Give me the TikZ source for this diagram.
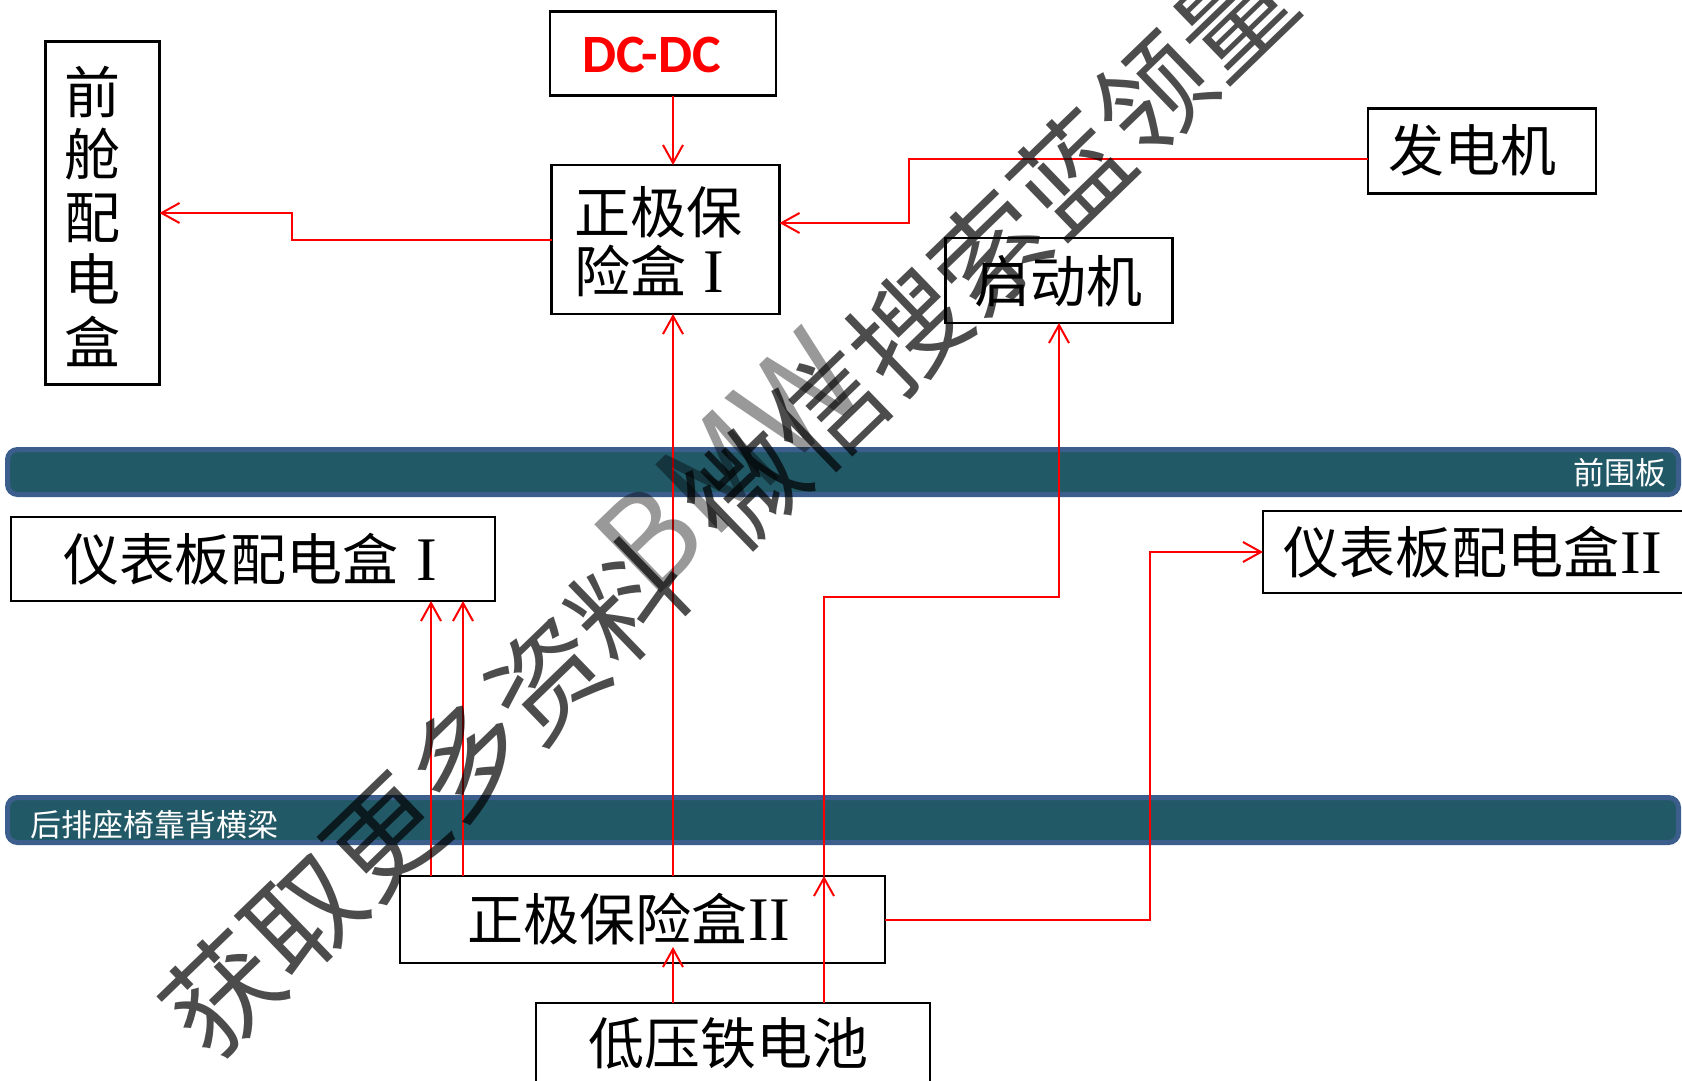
\documentclass[tikz,border=0pt]{standalone}
\usepackage{fontspec}
\usetikzlibrary{arrows.meta}
\newfontfamily\song{Noto Sans CJK SC}
\newfontfamily\cjk{Noto Sans CJK SC}
\newfontfamily\carlito{Carlito}
\newfontfamily\romserif{Liberation Serif}
\newcommand{\numI}{\makebox[1em]{\romserif\fontsize{62pt}{62pt}\selectfont I}}
\newcommand{\numII}{\makebox[0.8em]{\romserif\fontsize{62pt}{62pt}\selectfont II}}
\definecolor{barfill}{RGB}{34,89,103}
\definecolor{barline}{RGB}{60,94,140}
\tikzset{
  box/.style={draw=black, line width=2.5pt, inner sep=0pt, outer sep=0pt, rectangle},
  lbl/.style={inner sep=0pt, outer sep=0pt, font=\song\fontsize{56pt}{62pt}\selectfont},
  wire/.style={draw=red, line width=2pt, -{Straight Barb[length=18pt,width=20pt]}},
  bar/.style={fill=barfill, draw=barline, line width=5pt, rounded corners=10pt, inner sep=0pt, outer sep=0pt},
  barlabel/.style={text=white, inner sep=0pt, font=\song\fontsize{31pt}{31pt}\selectfont},
  wm/.style={text=black, text opacity=0.7, inner sep=0pt, font=\cjk\fontsize{113pt}{113pt}\selectfont},
  wmlight/.style={text=black, text opacity=0.4, inner sep=0pt, font=\cjk\fontsize{130pt}{130pt}\selectfont}
}
\begin{document}
\begin{tikzpicture}[x=1pt,y=-1pt]
\useasboundingbox (0,0) rectangle (1682,1081);
% walls
\node[bar, minimum width=1671pt, minimum height=45pt] (wall1) at (843,472) {};
\node[bar, minimum width=1671pt, minimum height=45pt] (wall2) at (843,820) {};
\node[barlabel, anchor=east] (twall1) at (1667,472.5) {前围板};
\node[barlabel, anchor=west] (twall2) at (30,825) {后排座椅靠背横梁};
% boxes
\node[box, minimum width=114pt, minimum height=343pt] (fwd) at (102.5,213) {};
\node[box, minimum width=226pt, minimum height=84pt] (dcdc) at (663,53.5) {};
\node[box, minimum width=228pt, minimum height=149pt] (pf1) at (665.5,239.5) {};
\node[box, minimum width=228pt, minimum height=85pt] (gen) at (1482,151) {};
\node[box, minimum width=227pt, minimum height=85pt] (starter) at (1059,280.5) {};
\node[box, minimum width=484pt, minimum height=84pt] (ip1) at (253,559) {};
\node[box, minimum width=440pt, minimum height=82pt] (ip2) at (1483,552) {};
\node[box, minimum width=485pt, minimum height=87pt] (pf2) at (642.5,919.5) {};
\node[box, minimum width=394pt, minimum height=100pt] (bat) at (733,1053) {};
% texts
\node[lbl, align=center, font=\song\fontsize{56pt}{62.5pt}\selectfont] (tfwd) at (92,216) {前\\舱\\配\\电\\盒};
\node[inner sep=0pt, text=red, font=\carlito\bfseries\fontsize{54pt}{54pt}\selectfont] (tdc) at (651.5,54.5) {DC-DC};
\node[lbl, align=left, anchor=west, font=\song\fontsize{56pt}{59pt}\selectfont] (tpf1) at (574,242) {正极保\\险盒\numI};
\node[lbl] (tgen) at (1472,150.5) {发电机};
\node[lbl] (tst) at (1058.5,281) {启动机};
\node[lbl, anchor=west] (tip1) at (63,559) {仪表板配电盒\numI};
\node[lbl, anchor=west] (tip2) at (1283,552) {仪表板配电盒\numII};
\node[lbl, anchor=west] (tpf2) at (467,919) {正极保险盒\numII};
\node[lbl] (tbat) at (728.5,1043) {低压铁电池};
% connector helper points
\coordinate (xa) at (673,0);
\coordinate (xb) at (431,0);
\coordinate (xc) at (463,0);
\coordinate (jogA) at (292,213);
\coordinate (jogB) at (909,159);
\coordinate (jogB2) at (909,223);
\coordinate (jogC) at (824,597);
\coordinate (jogD) at (1150,552);
\coordinate (batTip) at (673,947);
% connectors
\draw[wire] (xa |- dcdc.south) -- (xa |- pf1.north);
\draw[wire] (pf1.west) -- (jogA |- pf1.west) -- (jogA) -- (fwd.east |- jogA);
\draw[wire] (gen.west |- jogB) -- (jogB) -- (jogB2) -- (pf1.east |- jogB2);
\draw[wire] (xa |- pf2.north) -- (xa |- pf1.south);
\draw[wire] (xb |- pf2.north) -- (xb |- ip1.south);
\draw[wire] (xc |- pf2.north) -- (xc |- ip1.south);
\draw[wire] (xa |- bat.north) -- (batTip);
\draw[wire] (jogC |- bat.north) -- (jogC |- pf2.north);
\draw[wire] (jogC |- pf2.north) -- (jogC) -- (starter.south |- jogC) -- (starter.south);
\draw[wire] (pf2.east) -- (jogD |- pf2.east) -- (jogD) -- (ip2.west);
% watermark
\node[wm, rotate=44] (wmark) at (728,505) {获取更多资料\hspace{50pt}微信搜索蓝领量};
\node[wmlight, rotate=44] (wmbmw) at (728,462) {BMW};
\end{tikzpicture}
\end{document}
